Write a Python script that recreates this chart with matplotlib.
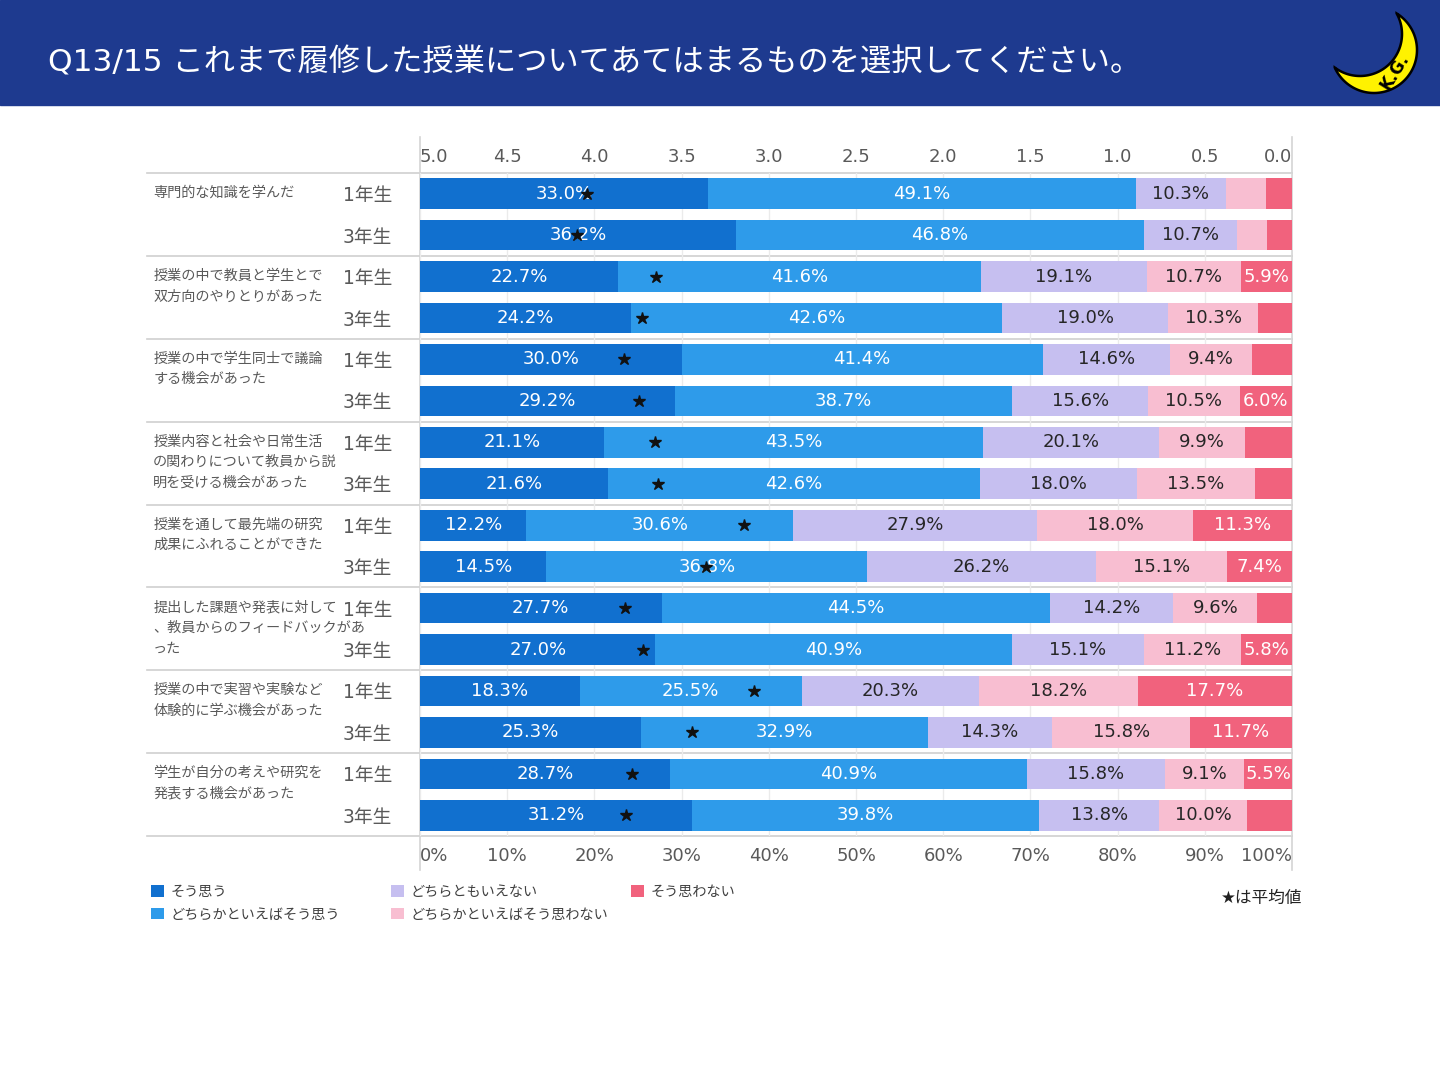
import numpy as np
import matplotlib
matplotlib.use('Agg')
from matplotlib import pyplot as plt
from matplotlib.patches import Rectangle, Polygon
from matplotlib import transforms

# Latin glyphs from DejaVu (Verdana-like), Japanese falls back to Noto CJK
plt.rcParams['font.family'] = ['DejaVu Sans', 'Noto Sans CJK JP']

title = 'Q13/15 これまで履修した授業についてあてはまるものを選択してください。'
items = [
    '専門的な知識を学んだ',
    '授業の中で教員と学生とで\n双方向のやりとりがあった',
    '授業の中で学生同士で議論\nする機会があった',
    '授業内容と社会や日常生活\nの関わりについて教員から説\n明を受ける機会があった',
    '授業を通して最先端の研究\n成果にふれることができた',
    '提出した課題や発表に対して\n、教員からのフィードバックがあ\nった',
    '授業の中で実習や実験など\n体験的に学ぶ機会があった',
    '学生が自分の考えや研究を\n発表する機会があった',
]
years = ['1年生', '3年生']
answers = ['そう思う', 'どちらかといえばそう思う', 'どちらともいえない',
           'どちらかといえばそう思わない', 'そう思わない']
scores = [5, 4, 3, 2, 1]
colors = ['#1170CF', '#2E9BEA', '#C6BFF0', '#F8BED1', '#F1627D']
label_colors = ['white', 'white', '#262626', '#262626', 'white']

# 16 bars: item1 1年, item1 3年, item2 1年, ...
sou = [33.0, 36.2, 22.7, 24.2, 30.0, 29.2, 21.1, 21.6, 12.2, 14.5, 27.7, 27.0, 18.3, 25.3, 28.7, 31.2]
dochira_sou = [49.1, 46.8, 41.6, 42.6, 41.4, 38.7, 43.5, 42.6, 30.6, 36.8, 44.5, 40.9, 25.5, 32.9, 40.9, 39.8]
neutral = [10.3, 10.7, 19.1, 19.0, 14.6, 15.6, 20.1, 18.0, 27.9, 26.2, 14.2, 15.1, 20.3, 14.3, 15.8, 13.8]
dochira_not = [4.6, 3.4, 10.7, 10.3, 9.4, 10.5, 9.9, 13.5, 18.0, 15.1, 9.6, 11.2, 18.2, 15.8, 9.1, 10.0]
not_sou = [3.0, 2.9, 5.9, 3.9, 4.6, 6.0, 5.4, 4.3, 11.3, 7.4, 4.0, 5.8, 17.7, 11.7, 5.5, 5.2]

pct_ticks = list(range(0, 101, 10))
pct_labels = [f'{t}%' for t in pct_ticks]
score_ticks = [5.0, 4.5, 4.0, 3.5, 3.0, 2.5, 2.0, 1.5, 1.0, 0.5, 0.0]
score_labels = [f'{t:.1f}' for t in score_ticks]

series = [np.array(s) for s in [sou, dochira_sou, neutral, dochira_not, not_sou]]
means = sum(sc * s for sc, s in zip(scores, series)) / sum(series)
ypos = np.arange(len(sou))

fig = plt.figure(figsize=(14.4, 10.8), dpi=100)

# background layer in pixel coordinates
bg = fig.add_axes([0, 0, 1, 1], zorder=0)
bg.set_xlim(0, 1440)
bg.set_ylim(1080, 0)
bg.axis('off')
bg.add_patch(Rectangle((0, 0), 1440, 105, color='#1E3A8F'))
bg.text(48, 62, title, color='white', fontsize=22.5, va='center')

# moon logo
c1 = np.array([1374.0, 50.0]); r1 = 43.0
c2 = np.array([1360.0, 34.0]); r2 = 42.0
d = np.linalg.norm(c1 - c2)
u = (c1 - c2) / d
a = (r1**2 - r2**2 + d**2) / (2 * d)
h = np.sqrt(r1**2 - a**2)
pA = c1 - a * u + h * np.array([-u[1], u[0]])
phi = np.arctan2(u[1], u[0])
al1 = np.arccos(np.dot(pA - c1, u) / r1)
al2 = np.arccos(np.dot(pA - c2, u) / r2)
t1 = np.linspace(phi - al1, phi + al1, 100)
t2 = np.linspace(phi + al2, phi - al2, 100)
pts = np.vstack([np.c_[c1[0] + r1 * np.cos(t1), c1[1] + r1 * np.sin(t1)],
                 np.c_[c2[0] + r2 * np.cos(t2), c2[1] + r2 * np.sin(t2)]])
bg.add_patch(Polygon(pts, closed=True, facecolor='#FFF200', edgecolor='black', lw=1.8))
bg.text(1395, 72, 'K.G.', rotation=58, fontsize=12, fontweight='bold',
        ha='center', va='center', color='black')

# frame lines
for k in range(9):
    y = 173 + k * 663 / 8
    bg.plot([147, 1292], [y, y], color='#CFCFCF', lw=1.2)
bg.plot([420, 420], [137, 870], color='#D4D4D4', lw=1.2)
bg.plot([1292, 1292], [137, 870], color='#D4D4D4', lw=1.2)

ax = fig.add_axes([420 / 1440, 1 - 836 / 1080, 872 / 1440, 663 / 1080], zorder=1)
ax.set_facecolor('none')
left = np.zeros(len(sou))
containers = []
for vals, name, col, tc in zip(series, answers, colors, label_colors):
    bars = ax.barh(ypos, vals, left=left, height=0.74, color=col, label=name, zorder=2)
    labs = [f'{v:.1f}%' if v >= 5.45 else '' for v in vals]
    ax.bar_label(bars, labels=labs, label_type='center', color=tc, fontsize=13)
    containers.append(bars)
    left += vals

ax.set_xlim(0, 100)
ax.set_ylim(len(sou) - 0.5, -0.5)
ax.set_yticks(ypos, years * len(items))
ax.tick_params(axis='y', length=0, pad=20, labelsize=13.5, labelcolor='#595959')
ax.set_xticks(pct_ticks, pct_labels)
ax.tick_params(axis='x', length=0, pad=8, labelsize=13, labelcolor='#595959')
xl = ax.get_xticklabels()
xl[0].set_ha('left')
xl[-1].set_ha('right')
ax.grid(axis='x', color='#EBEBEB', lw=1)
ax.set_axisbelow(True)
for s in ax.spines.values():
    s.set_visible(False)

# category labels, one text per line
trans = transforms.blended_transform_factory(ax.transAxes, ax.transData)
for k, item in enumerate(items):
    for j, line in enumerate(item.split('\n')):
        ax.text(-0.306, 2 * k - 0.02 + j * 0.5, line, transform=trans, va='center', ha='left',
                fontsize=10.2, color='#595959')

ax2 = ax.twiny()
ax2.set_xlim(5, 0)
ax2.set_xticks(score_ticks, score_labels)
ax2.tick_params(axis='x', length=0, pad=5, labelsize=13, labelcolor='#595959')
tl = ax2.get_xticklabels()
tl[0].set_ha('left')
tl[-1].set_ha('right')
for s in ax2.spines.values():
    s.set_visible(False)
ax2.plot(means, ypos, linestyle='none', marker='*', color='#111111', markersize=9, zorder=5)

# legends, one per column
cols = [(0, 2, 151), (2, 4, 391), (4, 5, 631)]
for i0, i1, px in cols:
    leg = fig.legend(containers[i0:i1], answers[i0:i1], loc='upper left',
                     bbox_to_anchor=(px / 1440, 1 - 885 / 1080), frameon=False,
                     fontsize=10.2, handlelength=0.9, handleheight=0.9,
                     handletextpad=0.45, labelspacing=0.6, borderpad=0, borderaxespad=0)
    for t in leg.get_texts():
        t.set_color('#404040')

fig.text(1302 / 1440, 1 - 898 / 1080, '★は平均値', ha='right', va='center', fontsize=12, color='#222222')

fig.savefig('out.png', dpi=100)
